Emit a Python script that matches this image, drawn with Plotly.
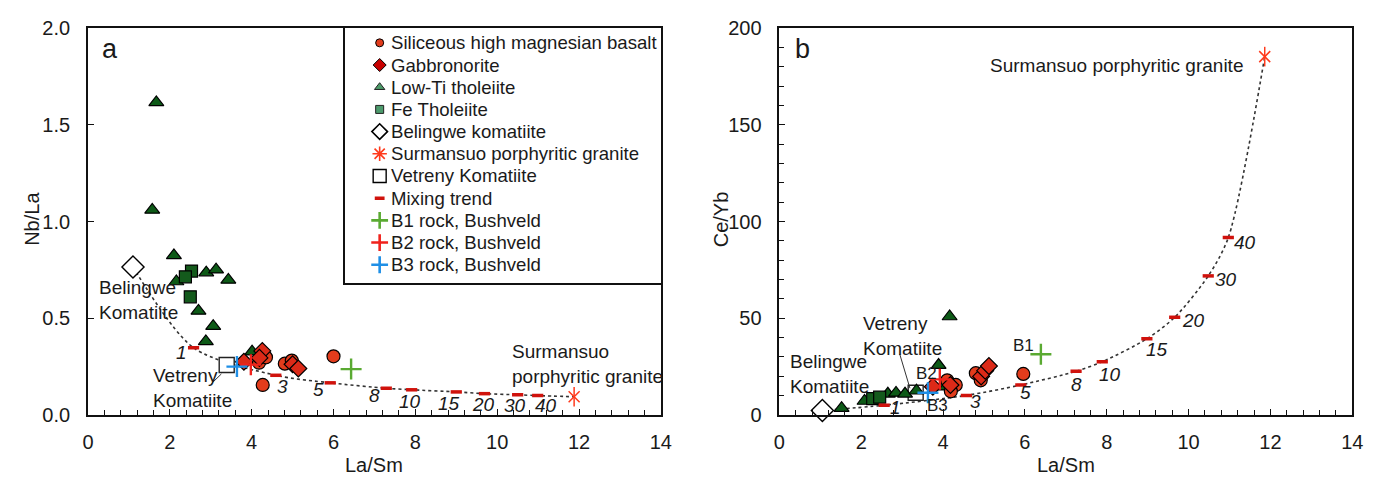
import plotly.graph_objects as go

# ---------------- data ----------------
mix_fraction = [1, 3, 5, 8, 10, 15, 20, 30, 40]

# Panel a : Nb/La vs La/Sm
shmb_a_x = [4.18, 4.35, 4.27, 4.81, 4.98, 6.00]
shmb_a_y = [0.270, 0.298, 0.155, 0.265, 0.281, 0.303]
gabbro_a_x = [3.81, 4.26, 4.19, 5.00, 5.14]
gabbro_a_y = [0.275, 0.331, 0.295, 0.262, 0.240]
lowti_a_x = [1.67, 1.57, 2.10, 2.16, 2.89, 3.13, 3.43, 2.70, 3.06, 2.88, 4.01]
lowti_a_y = [1.616, 1.06, 0.825, 0.690, 0.736, 0.751, 0.698, 0.538, 0.459, 0.380, 0.327]
fe_a_x = [2.53, 2.38, 2.50]
fe_a_y = [0.744, 0.714, 0.611]
belingwe_a = (1.10, 0.765)
vetreny_a = (3.39, 0.258)
granite_a = (11.88, 0.094)
b1_a = (6.43, 0.237)
b2_a = (3.98, 0.260)
b3_a = (3.64, 0.250)
mix_a_x = [2.58, 4.59, 5.92, 7.29, 7.91, 9.00, 9.69, 10.50, 10.99]
mix_a_y = [0.347, 0.205, 0.166, 0.138, 0.130, 0.119, 0.110, 0.104, 0.100]

# Panel b : Ce/Yb vs La/Sm
shmb_b_x = [4.10, 4.23, 4.31, 4.19, 4.80, 4.92, 5.96]
shmb_b_y = [17.9, 14.6, 15.5, 12.2, 21.6, 17.9, 21.2]
gabbro_b_x = [3.75, 4.18, 4.93, 5.03, 5.12]
gabbro_b_y = [14.6, 15.5, 19.9, 22.9, 25.3]
lowti_b_x = [1.52, 2.08, 2.65, 2.85, 3.07, 3.35, 3.89, 3.97, 4.16]
lowti_b_y = [3.5, 7.2, 10.9, 11.4, 10.9, 12.5, 25.8, 14.6, 50.9]
fe_b_x = [2.28, 2.45]
fe_b_y = [8.4, 9.2]
belingwe_b = (1.05, 2.3)
vetreny_b = (3.33, 11.5)
granite_b = (11.86, 185.3)
b1_b = (6.39, 31.4)
b2_b = (3.92, 18.4)
b3_b = (3.63, 11.5)
mix_b_x = [2.56, 4.57, 5.90, 7.25, 7.89, 8.98, 9.66, 10.48, 10.97]
mix_b_y = [5.0, 10.1, 15.5, 22.6, 27.5, 39.4, 50.5, 71.9, 91.7]

legend_names = ["Siliceous high magnesian basalt", "Gabbronorite", "Low-Ti tholeiite",
                "Fe Tholeiite", "Belingwe komatiite", "Surmansuo porphyritic granite",
                "Vetreny Komatiite", "Mixing trend", "B1 rock, Bushveld",
                "B2 rock, Bushveld", "B3 rock, Bushveld"]

x_ticks = [0, 2, 4, 6, 8, 10, 12, 14]

# ---------------- style ----------------
W, H = 1387, 488
FONT = "Liberation Sans, Arial, sans-serif"
TXT = "#1a1a1a"
C_SHMB = "#e23c1c"
C_GAB = "#dc2a18"
C_TRI = "#0d5a17"
C_SQ = "#145a1c"
C_B1 = "#5aaa32"
C_B2 = "#f0221c"
C_B3 = "#1f8fe6"
C_GRAN = "#ff3a1c"
C_MIX = "#d0120c"
FS = 19
FS_TICK = 20

fig = go.Figure()


def add_panel(xa, ya, d):
    # mixing curve
    fig.add_trace(go.Scatter(
        x=[d["bel"][0]] + d["mx"] + [d["gran"][0]],
        y=[d["bel"][1]] + d["my"] + [d["gran"][1]],
        mode="lines", line=dict(color="#333", width=1.6, dash="dot", shape="spline", smoothing=0.8),
        xaxis=xa, yaxis=ya, showlegend=False, hoverinfo="skip"))
    fig.add_trace(go.Scatter(x=[d["bel"][0]], y=[d["bel"][1]], mode="markers",
                             marker=dict(symbol="diamond", size=17, color="white",
                                         line=dict(color="black", width=1.4)),
                             cliponaxis=False, xaxis=xa, yaxis=ya, showlegend=False))
    fig.add_trace(go.Scatter(x=[d["vet"][0]], y=[d["vet"][1]], mode="markers",
                             marker=dict(symbol="square", size=15, color="white",
                                         line=dict(color="#222", width=1.4)),
                             xaxis=xa, yaxis=ya, showlegend=False))
    fig.add_trace(go.Scatter(x=d["tx"], y=d["ty"], mode="markers",
                             marker=dict(symbol="triangle-up", size=13, color=C_TRI,
                                         line=dict(color="black", width=1.2)),
                             cliponaxis=False, xaxis=xa, yaxis=ya, showlegend=False))
    fig.add_trace(go.Scatter(x=d["fx"], y=d["fy"], mode="markers",
                             marker=dict(symbol="square", size=12, color=C_SQ,
                                         line=dict(color="black", width=1.2)),
                             xaxis=xa, yaxis=ya, showlegend=False))
    fig.add_trace(go.Scatter(x=d["cx"], y=d["cy"], mode="markers",
                             marker=dict(symbol="circle", size=13, color=C_SHMB,
                                         line=dict(color="black", width=1.2)),
                             xaxis=xa, yaxis=ya, showlegend=False))
    fig.add_trace(go.Scatter(x=d["gx"], y=d["gy"], mode="markers",
                             marker=dict(symbol="diamond", size=13, color=C_GAB,
                                         line=dict(color="black", width=1.2)),
                             xaxis=xa, yaxis=ya, showlegend=False))
    for pt, col in ((d["b1"], C_B1), (d["b2"], C_B2), (d["b3"], C_B3)):
        fig.add_trace(go.Scatter(x=[pt[0]], y=[pt[1]], mode="markers",
                                 marker=dict(symbol="cross-thin-open", size=15, color=col,
                                             line=dict(color=col, width=2.4)),
                                 xaxis=xa, yaxis=ya, showlegend=False))
    fig.add_trace(go.Scatter(x=d["mx"], y=d["my"], mode="markers",
                             marker=dict(symbol="line-ew-open", size=8, color=C_MIX,
                                         line=dict(color=C_MIX, width=3.5)),
                             xaxis=xa, yaxis=ya, showlegend=False))
    for sym, sz in (("x-thin-open", 11), ("line-ns-open", 14)):
        fig.add_trace(go.Scatter(x=[d["gran"][0]], y=[d["gran"][1]], mode="markers",
                                 marker=dict(symbol=sym, size=sz, color=C_GRAN,
                                             line=dict(color=C_GRAN, width=1.5)),
                                 cliponaxis=False, xaxis=xa, yaxis=ya, showlegend=False))


add_panel("x", "y", dict(bel=belingwe_a, vet=vetreny_a, gran=granite_a, mx=mix_a_x, my=mix_a_y,
                         tx=lowti_a_x, ty=lowti_a_y, fx=fe_a_x, fy=fe_a_y, cx=shmb_a_x, cy=shmb_a_y,
                         gx=gabbro_a_x, gy=gabbro_a_y, b1=b1_a, b2=b2_a, b3=b3_a))
add_panel("x2", "y2", dict(bel=belingwe_b, vet=vetreny_b, gran=granite_b, mx=mix_b_x, my=mix_b_y,
                           tx=lowti_b_x, ty=lowti_b_y, fx=fe_b_x, fy=fe_b_y, cx=shmb_b_x, cy=shmb_b_y,
                           gx=gabbro_b_x, gy=gabbro_b_y, b1=b1_b, b2=b2_b, b3=b3_b))

# ---------------- manual legend (panel a) ----------------
legend_markers = [
    dict(symbol="circle", size=8, color=C_SHMB, line=dict(color="black", width=1)),
    dict(symbol="diamond", size=10, color="#c80000", line=dict(color="black", width=1)),
    dict(symbol="triangle-up", size=9, color="#4c9a68", line=dict(color="#222", width=1)),
    dict(symbol="square", size=8, color="#4c9a6c", line=dict(color="#222", width=1)),
    dict(symbol="diamond", size=12, color="white", line=dict(color="black", width=1.6)),
    dict(symbol="asterisk-open", size=12, color=C_GRAN, line=dict(color=C_GRAN, width=1.6)),
    dict(symbol="square", size=13, color="white", line=dict(color="black", width=1.4)),
    dict(symbol="line-ew-open", size=7, color=C_MIX, line=dict(color=C_MIX, width=3.5)),
    dict(symbol="cross-thin-open", size=12, color=C_B1, line=dict(color=C_B1, width=2.6)),
    dict(symbol="cross-thin-open", size=12, color=C_B2, line=dict(color=C_B2, width=2.6)),
    dict(symbol="cross-thin-open", size=12, color=C_B3, line=dict(color=C_B3, width=2.6)),
]
for i, (name, mk) in enumerate(zip(legend_names, legend_markers)):
    fig.add_trace(go.Scatter(x=[35.3], y=[i], mode="markers", marker=mk,
                             xaxis="x3", yaxis="y3", showlegend=False, hoverinfo="skip"))
    fig.add_annotation(x=44.5, y=i, xref="x3", yref="y3", text=name, showarrow=False,
                       xanchor="left", yanchor="middle",
                       font=dict(family=FONT, size=18.6, color=TXT))

# ---------------- axes ----------------
axis_common = dict(showgrid=False, zeroline=False, showline=True, mirror=True,
                   linecolor="#111", linewidth=1.6, ticks="inside", ticklen=6,
                   tickcolor="#111", tickwidth=1.2,
                   tickfont=dict(family=FONT, size=FS_TICK, color=TXT))
xa_dom = [83 / W, 663 / W]
xb_dom = [783 / W, 1363 / W]
y_dom = [65 / H, 470 / H]

fig.update_layout(
    width=W, height=H, margin=dict(l=0, r=0, t=0, b=0),
    paper_bgcolor="white", plot_bgcolor="white", showlegend=False,
    xaxis=dict(axis_common, domain=xa_dom, range=[0, 14], tickvals=x_ticks, anchor="y",
               ticklabelstandoff=8,
               minor=dict(dtick=0.4, ticks="inside", ticklen=5, tickcolor="#111", showgrid=False)),
    yaxis=dict(axis_common, domain=y_dom, range=[0, 2], dtick=0.5, tickformat=".1f", anchor="x",
               ticklabelstandoff=12),
    xaxis2=dict(axis_common, domain=xb_dom, range=[0, 14], tickvals=x_ticks, anchor="y2",
                ticklabelstandoff=8,
                minor=dict(dtick=0.4, ticks="inside", ticklen=5, tickcolor="#111", showgrid=False)),
    yaxis2=dict(axis_common, domain=y_dom, range=[0, 200], dtick=50, anchor="x2",
                ticklabelstandoff=12,
                minor=dict(dtick=10, ticks="inside", ticklen=5, tickcolor="#111", showgrid=False)),
    xaxis3=dict(domain=[343 / W, 663 / W], range=[0, 320], anchor="y3", showgrid=False,
                zeroline=False, showticklabels=False, ticks="", showline=True, mirror=True,
                linecolor="#111", linewidth=1.6, fixedrange=True),
    yaxis3=dict(domain=[(H - 285) / H, 470 / H], range=[10.83, -0.66], anchor="x3", showgrid=False,
                zeroline=False, showticklabels=False, ticks="", showline=True, mirror=True,
                linecolor="#111", linewidth=1.6, fixedrange=True),
)

# ---------------- text ----------------
def note(text, x, y, xref, yref, size=FS, xanchor="center", yanchor="middle", align="center",
         italic=False, textangle=0, xshift=0, yshift=0):
    fig.add_annotation(x=x, y=y, xref=xref, yref=yref, text=(f"<i>{text}</i>" if italic else text),
                       showarrow=False, xanchor=xanchor, yanchor=yanchor, align=align,
                       textangle=textangle, xshift=xshift, yshift=yshift,
                       font=dict(family=FONT, size=size, color=TXT))

# axis titles
note("Nb/La", 26 / W, 1 - 218 / H, "paper", "paper", size=20, textangle=-90)
note("Ce/Yb", 724 / W, 1 - 218 / H, "paper", "paper", size=20, textangle=-90)
note("La/Sm", 373 / W, 1 - 475 / H, "paper", "paper", size=20)
note("La/Sm", 1073 / W, 1 - 475 / H, "paper", "paper", size=20)
note("a", 105 / W, 1 - 40 / H, "paper", "paper", size=27)
note("b", 806 / W, 1 - 40 / H, "paper", "paper", size=27)

# panel a labels
note("Belingwe<br>Komatiite", 0.22, 0.593, "x", "y", xanchor="left", align="left")
note("Vetreny<br>Komatiite", 1.54, 0.140, "x", "y", xanchor="left", align="left")
note("Surmansuo<br>porphyritic granite", 10.31, 0.262, "x", "y", xanchor="left", align="left")
fig.add_shape(type="line", x0=3.02, y0=0.163, x1=3.26, y1=0.212, xref="x", yref="y",
              line=dict(color="#333", width=1))

# panel b labels
note("Surmansuo porphyritic granite", 11.37, 180.9, "x2", "y2", xanchor="right")
note("Belingwe<br>Komatiite", 0.21, 21.4, "x2", "y2", xanchor="left", align="left")
note("Vetreny<br>Komatiite", 2.0, 41.0, "x2", "y2", xanchor="left", align="left")
fig.add_shape(type="line", x0=2.94, y0=31.5, x1=3.19, y1=13.8, xref="x2", yref="y2",
              line=dict(color="#333", width=1))
note("B1", 5.96, 36.0, "x2", "y2", size=17)
note("B2", 3.59, 21.6, "x2", "y2", size=17)
note("B3", 3.87, 4.8, "x2", "y2", size=17)

# mixing-percentage labels (pixel offsets from each mark)
off_a = [(-12, 5), (7, 11), (-12, 7), (-12, 7), (-2, 12), (-7, 12), (-1, 11), (-3, 11), (8, 10)]
off_b = [(11, 2), (9, 6), (5, 8), (0, 13), (8, 13), (10, 11), (19, 3), (18, 4), (17, 5)]
for f, x, y, (dx, dy) in zip(mix_fraction, mix_a_x, mix_a_y, off_a):
    note(str(f), x, y, "x", "y", italic=True, xshift=dx, yshift=-dy)
for f, x, y, (dx, dy) in zip(mix_fraction, mix_b_x, mix_b_y, off_b):
    note(str(f), x, y, "x2", "y2", italic=True, xshift=dx, yshift=-dy)

fig.write_html("out.html")
